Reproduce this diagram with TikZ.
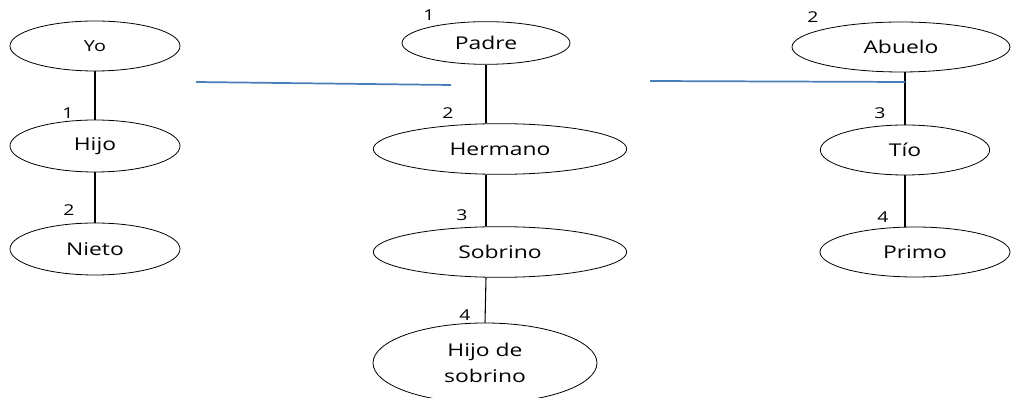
\documentclass[tikz,border=0pt]{standalone}
\usepackage{fontspec}
\setmainfont[FakeStretch=1.3]{Open Sans}
\usetikzlibrary{shapes.geometric}
\definecolor{lineablue}{HTML}{4A7EBB}
\begin{document}
\begin{tikzpicture}
        [x=0.75pt,y=-0.75pt,
        persona/.style={ellipse, draw=black, line width=0.6pt, inner sep=0pt,
            font=\fontsize{13.2}{20}\selectfont, align=center},
        num/.style={inner sep=0pt, font=\fontsize{11.2}{12}\selectfont},
        line/.style={line width=0.8pt},
        enlace/.style={lineablue, line width=1.3pt}]
        \useasboundingbox (0,0) rectangle (1011,398);
        % rama izquierda
        \node[persona, minimum width=127.5pt, minimum height=37.5pt,
            font=\fontsize{11.4}{12}\selectfont] (yo) at (95,46) {Yo};
        \node[persona, minimum width=127.5pt, minimum height=39pt] (hijo) at (95,146) {Hijo}
            edge[line] (yo);
        \node[persona, minimum width=127.5pt, minimum height=39pt] (nieto) at (95,249) {Nieto}
            edge[line] (hijo);
        \node[num] (n1) at (68,113) {1};
        \node[num] (n2) at (69,210) {2};
        % rama central
        \node[persona, minimum width=126pt, minimum height=32pt] (padre) at (486,43) {Padre};
        \node[persona, minimum width=190pt, minimum height=38pt] (hermano) at (500,149) {Hermano};
        \node[persona, minimum width=190pt, minimum height=38pt] (sobrino) at (500,252) {Sobrino};
        \node[persona, minimum width=168pt, minimum height=60pt] (hijosob) at (485,363) {Hijo de\\sobrino};
        \draw[line] (padre.south) -- (padre.south |- hermano.north);
        \draw[line] (padre.south |- hermano.south) -- (padre.south |- sobrino.north);
        \draw[line] (padre.south |- sobrino.south) -- (hijosob.north);
        \node[num] (c1) at (429,15) {1};
        \node[num] (c2) at (448,113) {2};
        \node[num] (c3) at (462,215) {3};
        \node[num] (c4) at (465,315) {4};
        % rama derecha
        \node[persona, minimum width=163.5pt, minimum height=37.5pt] (abuelo) at (901,47) {Abuelo};
        \node[persona, minimum width=127pt, minimum height=37.5pt] (tio) at (905,150) {Tío};
        \node[persona, minimum width=142.5pt, minimum height=37.5pt] (primo) at (915,252) {Primo};
        \draw[line] (tio.north |- abuelo.south) -- (tio.north);
        \draw[line] (tio.south) -- (tio.south |- primo.north);
        \node[num] (d2) at (813,17) {2};
        \node[num] (d3) at (880,113) {3};
        \node[num] (d4) at (883,217) {4};
        % enlaces
        \coordinate (e1) at (196,82);
        \coordinate (e2) at (451,85);
        \coordinate (e3) at (650,81);
        \coordinate (e4) at (tio.north |- 0,82);
        \draw[enlace] (e1) -- (e2);
        \draw[enlace] (e3) -- (e4);
    \end{tikzpicture}
\end{document}
